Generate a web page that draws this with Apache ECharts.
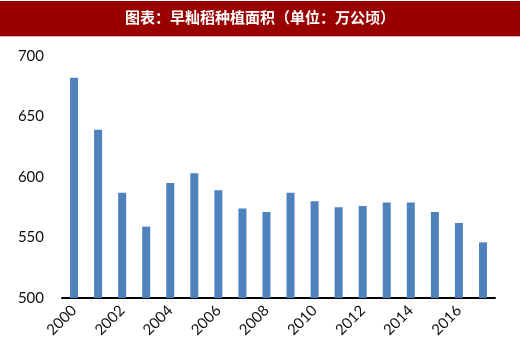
<!DOCTYPE html>
<html><head><meta charset="utf-8">
<script src="https://cdn.jsdelivr.net/npm/echarts@6/dist/echarts.min.js"></script>
<style>html,body{margin:0;padding:0;background:#fff}#c{width:520px;height:345px}</style>
</head><body><div id="c"></div>
<script>
const titleText = '图表：早籼稻种植面积（单位：万公顷）';
const years = ['2000','2001','2002','2003','2004','2005','2006','2007','2008','2009','2010','2011','2012','2013','2014','2015','2016','2017'];
const areas = [682,639,587,559,595,603,589,574,571,587,580,575,576,579,579,571,562,546];
const yTicks = {min:500, max:700, interval:50};

const chart = echarts.init(document.getElementById('c'), null, {renderer:'canvas'});
chart.setOption({
  animation:false,
  backgroundColor:'#fff',
  graphic:[
    {type:'rect', left:0, top:1, shape:{width:520, height:35}, style:{fill:'#990000'}},
    {type:'rect', left:0, top:36, shape:{width:520, height:1}, style:{fill:'#e8b0b0'}},
    {type:'text', left:'center', top:10, style:{text:titleText, fill:'#fff', font:'bold 15px "Noto Sans CJK SC"'}}
  ],
  grid:{left:62, right:25, top:56, bottom:47, containLabel:false},
  xAxis:{
    type:'category', data:years,
    axisLine:{show:true, lineStyle:{color:'#000', width:2}},
    axisTick:{show:false},
    axisLabel:{interval:1, rotate:45, color:'#111', fontSize:15, fontFamily:'Lato', margin:10}
  },
  yAxis:{
    type:'value', min:yTicks.min, max:yTicks.max, interval:yTicks.interval,
    axisLine:{show:false}, axisTick:{show:false}, splitLine:{show:false},
    axisLabel:{color:'#111', fontSize:15, fontFamily:'Lato', margin:18}
  },
  series:[{type:'bar', data:areas, barWidth:8, itemStyle:{color:'#4f81bd'}}]
});
</script></body></html>
